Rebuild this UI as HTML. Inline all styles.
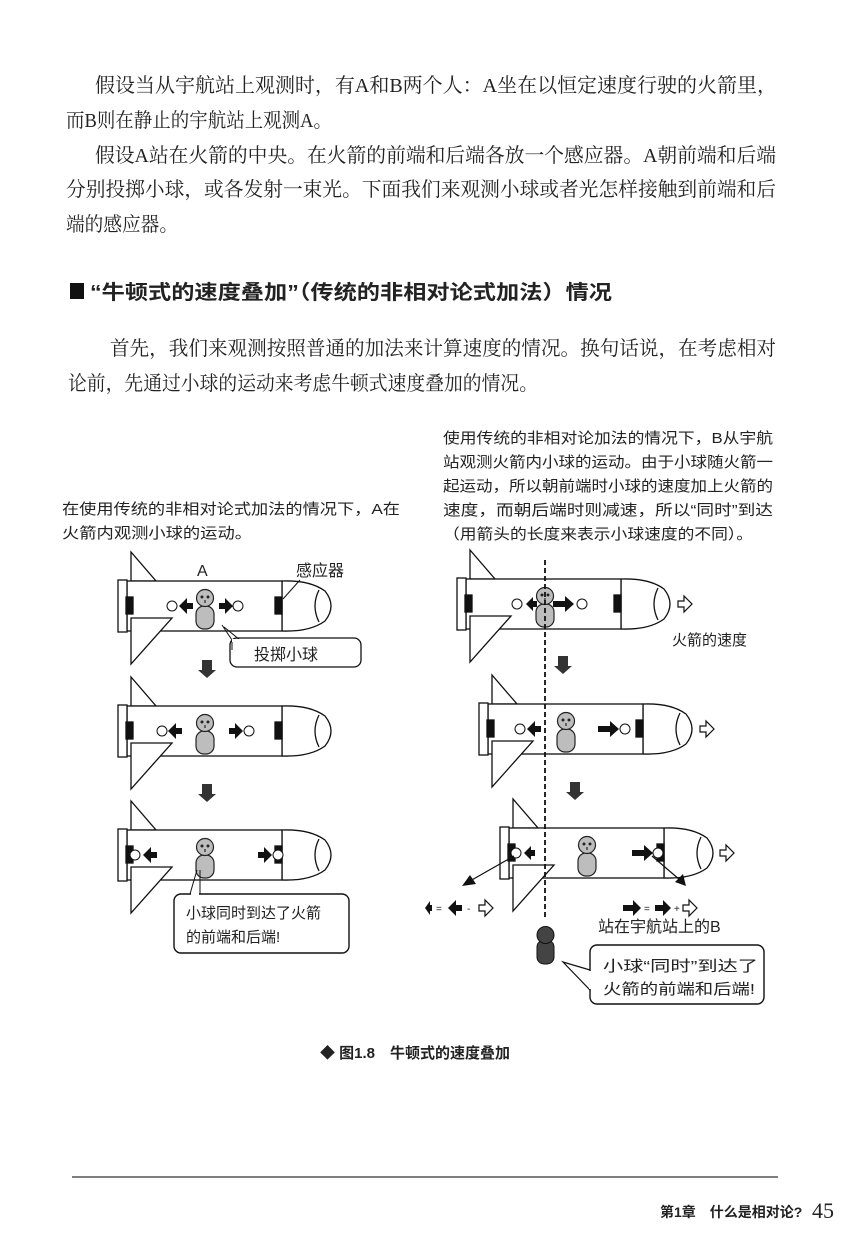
<!DOCTYPE html>
<html><head><meta charset="utf-8">
<style>
html,body{margin:0;padding:0;background:#fff;}
svg{display:block;}
.t{font-family:"Liberation Serif","Noto Serif CJK SC",serif;font-size:20px;fill:#222;}
.s{font-family:"Liberation Sans","Noto Sans CJK SC",sans-serif;fill:#222;}
</style></head><body>
<svg width="850" height="1238" viewBox="0 0 850 1238" xmlns="http://www.w3.org/2000/svg">
<defs>
<g id="rocket" stroke="#111" stroke-width="1.3" fill="#fff">
  <polygon points="13,-29 13,0 38,0"/>
  <path d="M164,0 Q192,-1 207,10 Q219,25 207,40 Q192,51 164,50 Z"/>
  <rect x="9" y="0" width="155" height="50"/>
  <path d="M201,9 Q193,25 201,41" fill="none"/>
  <rect x="0" y="-1" width="9" height="52"/>
  <rect x="8" y="16" width="7" height="17" fill="#111"/>
  <rect x="157" y="16" width="7" height="17" fill="#111"/>
  <polygon points="13,37 54,37 13,83"/>
</g>
<g id="person" stroke="#222" stroke-width="1.2" fill="#bdbdbd">
  <rect x="-9" y="8" width="18" height="23" rx="8"/>
  <circle cx="0" cy="0" r="8.5"/>
  <circle cx="-3" cy="-1" r="0.9" fill="#222"/><circle cx="3" cy="-1" r="0.9" fill="#222"/>
  <path d="M0,2 v3" fill="none"/>
</g>
<path id="ar" d="M0,-3 h6 v-5 l8,8 l-8,8 v-5 h-6 z" fill="#111"/>
<path id="arL" d="M14,-3 h-6 v-5 l-8,8 l8,8 v-5 h6 z" fill="#111"/>
<path id="hol" d="M0,-3 h6 v-5 l8,8 l-8,8 v-5 h-6 z" fill="#fff" stroke="#111" stroke-width="1.2"/>
<g id="down"><rect x="-5" y="0" width="10" height="10" fill="#333"/><polygon points="-9,10 9,10 0,18" fill="#333"/></g>
</defs>

<!-- body text -->
<text class="t" x="95" y="92" textLength="682" lengthAdjust="spacingAndGlyphs">假设当从宇航站上观测时，有A和B两个人：A坐在以恒定速度行驶的火箭里，</text>
<text class="t" x="66" y="127" textLength="266" lengthAdjust="spacingAndGlyphs">而B则在静止的宇航站上观测A。</text>
<text class="t" x="95" y="162" textLength="681" lengthAdjust="spacingAndGlyphs">假设A站在火箭的中央。在火箭的前端和后端各放一个感应器。A朝前端和后端</text>
<text class="t" x="66" y="196" textLength="710" lengthAdjust="spacingAndGlyphs">分别投掷小球，或各发射一束光。下面我们来观测小球或者光怎样接触到前端和后</text>
<text class="t" x="66" y="231" textLength="112" lengthAdjust="spacingAndGlyphs">端的感应器。</text>

<rect x="70" y="283" width="14" height="16" fill="#111"/>
<text class="s" x="90" y="299" font-size="20" font-weight="bold" textLength="522" lengthAdjust="spacingAndGlyphs">“牛顿式的速度叠加”（传统的非相对论式加法）情况</text>

<text class="t" x="110" y="355" textLength="666" lengthAdjust="spacingAndGlyphs">首先，我们来观测按照普通的加法来计算速度的情况。换句话说，在考虑相对</text>
<text class="t" x="68" y="390" textLength="470" lengthAdjust="spacingAndGlyphs">论前，先通过小球的运动来考虑牛顿式速度叠加的情况。</text>

<!-- captions -->
<g class="s" font-size="15">
<text x="443" y="443" textLength="330" lengthAdjust="spacingAndGlyphs">使用传统的非相对论加法的情况下，B从宇航</text>
<text x="443" y="467" textLength="330" lengthAdjust="spacingAndGlyphs">站观测火箭内小球的运动。由于小球随火箭一</text>
<text x="443" y="491" textLength="330" lengthAdjust="spacingAndGlyphs">起运动，所以朝前端时小球的速度加上火箭的</text>
<text x="443" y="515" textLength="330" lengthAdjust="spacingAndGlyphs">速度，而朝后端时则减速，所以“同时”到达</text>
<text x="443" y="539" textLength="310" lengthAdjust="spacingAndGlyphs">（用箭头的长度来表示小球速度的不同）。</text>
<text x="62" y="514" textLength="338" lengthAdjust="spacingAndGlyphs">在使用传统的非相对论式加法的情况下，A在</text>
<text x="62" y="538" textLength="190" lengthAdjust="spacingAndGlyphs">火箭内观测小球的运动。</text>
</g>

<!-- LEFT rockets -->
<use href="#rocket" x="118" y="581"/>
<use href="#rocket" x="118" y="706"/>
<use href="#rocket" x="118" y="830"/>
<text class="s" x="197" y="576" font-size="16">A</text>
<text class="s" x="296" y="576" font-size="16">感应器</text>
<line x1="300" y1="580" x2="283" y2="599" stroke="#111" stroke-width="1"/>

<!-- rocket1 left -->
<use href="#person" x="205" y="598"/>
<circle cx="172" cy="606" r="5" fill="#fff" stroke="#111"/>
<use href="#arL" x="179" y="606"/>
<use href="#ar" x="219" y="606"/>
<circle cx="238" cy="606" r="5" fill="#fff" stroke="#111"/>
<!-- callout 1 -->
<rect x="230" y="638" width="131" height="29" rx="7" fill="#fff" stroke="#111" stroke-width="1.3"/>
<path d="M222,625 L232,640 L232,650" fill="none" stroke="#111"/>
<path d="M224,627 L240,640" fill="none" stroke="#111"/>
<rect x="232" y="639" width="12" height="3" fill="#fff"/>
<text class="s" x="254" y="660" font-size="16">投掷小球</text>
<use href="#down" x="207" y="660"/>

<!-- rocket2 left -->
<use href="#person" x="205" y="723"/>
<circle cx="162" cy="731" r="5" fill="#fff" stroke="#111"/>
<use href="#arL" x="168" y="731"/>
<use href="#ar" x="229" y="731"/>
<circle cx="249" cy="731" r="5" fill="#fff" stroke="#111"/>
<use href="#down" x="207" y="784"/>

<!-- rocket3 left -->
<use href="#person" x="205" y="847"/>
<circle cx="135" cy="855" r="5" fill="#fff" stroke="#111"/>
<use href="#arL" x="143" y="855"/>
<use href="#ar" x="258" y="855"/>
<circle cx="278" cy="855" r="5" fill="#fff" stroke="#111"/>
<rect x="174" y="894" width="175" height="59" rx="7" fill="#fff" stroke="#111" stroke-width="1.4"/>
<path d="M197,870 L190,894 M200,870 L200,894" stroke="#111" fill="none"/>
<rect x="191" y="893" width="8" height="3" fill="#fff"/>
<text class="s" x="186" y="918" font-size="15">小球同时到达了火箭</text>
<text class="s" x="186" y="942" font-size="15">的前端和后端!</text>

<!-- RIGHT rockets -->
<use href="#rocket" x="457" y="579"/>
<use href="#rocket" x="479" y="704"/>
<use href="#rocket" x="500" y="828"/>

<!-- r1 -->
<use href="#person" x="545" y="596"/>
<circle cx="517" cy="604" r="5" fill="#fff" stroke="#111"/>
<path d="M537,601 h-4 v-4 l-7,7 l7,7 v-4 h4 z" fill="#111"/>
<path d="M553,601 h12 v-5 l9,8 l-9,8 v-5 h-12 z" fill="#111"/>
<circle cx="582" cy="604" r="5" fill="#fff" stroke="#111"/>
<use href="#hol" x="678" y="604"/>
<text class="s" x="672" y="645" font-size="15">火箭的速度</text>
<use href="#down" x="563" y="656"/>

<!-- r2 -->
<use href="#person" x="566" y="721"/>
<circle cx="520" cy="729" r="5" fill="#fff" stroke="#111"/>
<use href="#arL" x="527" y="729"/>
<path d="M598,726 h12 v-5 l9,8 l-9,8 v-5 h-12 z" fill="#111"/>
<circle cx="625" cy="729" r="5" fill="#fff" stroke="#111"/>
<use href="#hol" x="700" y="729"/>
<use href="#down" x="575" y="782"/>

<!-- r3 -->
<use href="#person" x="587" y="845"/>
<circle cx="516" cy="853" r="5" fill="#fff" stroke="#111"/>
<path d="M535,850 h-4 v-4 l-7,7 l7,7 v-4 h4 z" fill="#111"/>
<path d="M632,850 h12 v-5 l9,8 l-9,8 v-5 h-12 z" fill="#111"/>
<circle cx="658" cy="853" r="5" fill="#fff" stroke="#111"/>
<use href="#hol" x="720" y="853"/>

<!-- diagonals -->
<line x1="514" y1="856" x2="470" y2="881" stroke="#111" stroke-width="1.2"/>
<polygon points="462,886 470,875 476,884" fill="#111"/>
<line x1="652" y1="856" x2="680" y2="880" stroke="#111" stroke-width="1.2"/>
<polygon points="686,886 675,882 683,874" fill="#111"/>

<!-- equations -->
<path d="M432,908 v-3 h-2 v-4 l-5,7 l5,7 v-4 h2 z" fill="#111"/>
<text class="s" x="436" y="912" font-size="10">=</text>
<path d="M462,905 h-6 v-5 l-8,8 l8,8 v-5 h6 z" fill="#111"/>
<text class="s" x="467" y="912" font-size="10">-</text>
<use href="#hol" x="479" y="908"/>
<path d="M623,905 h10 v-5 l8,8 l-8,8 v-5 h-10 z" fill="#111"/>
<text class="s" x="644" y="912" font-size="10">=</text>
<path d="M655,905 h8 v-5 l8,8 l-8,8 v-5 h-8 z" fill="#111"/>
<text class="s" x="674" y="912" font-size="10">+</text>
<use href="#hol" x="683" y="908"/>
<text class="s" x="598" y="932" font-size="16">站在宇航站上的B</text>

<!-- dashed line -->
<line x1="545" y1="560" x2="545" y2="918" stroke="#111" stroke-width="1.8" stroke-dasharray="5,3"/>

<!-- person B -->
<g fill="#444" stroke="#111" stroke-width="1">
<rect x="537" y="940" width="17" height="24" rx="7"/>
<circle cx="545.5" cy="935" r="8.5"/>
</g>
<!-- callout right -->
<rect x="590" y="945" width="174" height="59" rx="7" fill="#fff" stroke="#111" stroke-width="1.4"/>
<path d="M563,962 L590,990 L590,970 Z" fill="#fff" stroke="#111" stroke-width="1.2"/>
<rect x="589" y="971" width="3" height="18" fill="#fff"/>
<text class="s" x="603" y="971" font-size="15" textLength="155" lengthAdjust="spacingAndGlyphs">小球“同时”到达了</text>
<text class="s" x="603" y="994" font-size="15" textLength="152" lengthAdjust="spacingAndGlyphs">火箭的前端和后端!</text>

<!-- figure caption -->
<text class="s" x="320" y="1058" font-size="15" font-weight="bold">◆ 图1.8　牛顿式的速度叠加</text>

<!-- footer -->
<line x1="72" y1="1177" x2="778" y2="1177" stroke="#333" stroke-width="1.2"/>
<text class="s" x="660" y="1217" font-size="14" font-weight="bold">第1章　什么是相对论?</text>
<text x="812" y="1218" font-family="Liberation Serif, serif" font-size="22" fill="#222">45</text>
</svg>
</body></html>
